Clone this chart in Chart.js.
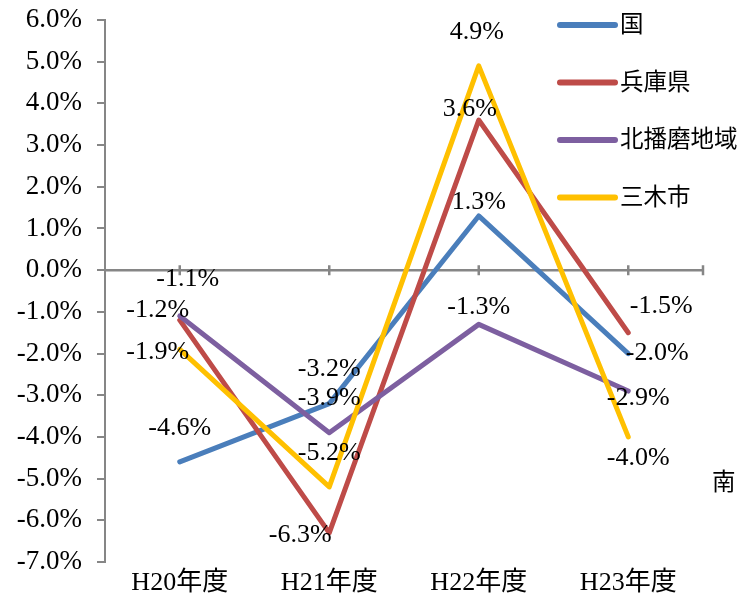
<!DOCTYPE html>
<html>
<head>
<meta charset="utf-8">
<script src="https://cdn.jsdelivr.net/npm/chart.js@4"></script>
<style>
  body { margin: 0; background: #fff; }
  #wrap { width: 743px; height: 599px; }
</style>
</head>
<body>
<div id="wrap"><canvas id="chart"></canvas></div>
<script>
const categories = ['H20年度', 'H21年度', 'H22年度', 'H23年度'];
const seriesNames = ['国', '兵庫県', '北播磨地域', '三木市'];
const kuni = [-4.6, -3.2, 1.3, -2.0];
const hyogo = [-1.2, -6.3, 3.6, -1.5];
const kitaharima = [-1.1, -3.9, -1.3, -2.9];
const miki = [-1.9, -5.2, 4.9, -4.0];
const yTicks = [-7, -6, -5, -4, -3, -2, -1, 0, 1, 2, 3, 4, 5, 6];

const colors = ['#4A7EBB', '#BE4B48', '#7D5FA0', '#FFC000'];
const FONT = '"Liberation Serif", "Noto Sans CJK JP", serif';

// label offsets from each point (px), per series
const labelOffsets = [
  [[0, -34], [0, -34], [0, -14], [29, 0]],
  [[-22, -10], [-29, 2], [-9, -11], [33, -27]],
  [[8, -37], [0, -35], [0, -17], [10, 7]],
  [[-22, 3], [0, -34], [-2, -34], [10, 21]]
];

const fmt = v => v.toFixed(1) + '%';

// zero line with tick marks
const zeroAxis = {
  id: 'zeroAxis',
  beforeDatasetsDraw(chart) {
    const { ctx, chartArea, scales } = chart;
    const y0 = scales.y.getPixelForValue(0);
    ctx.save();
    ctx.strokeStyle = '#868686';
    ctx.lineWidth = 2.5;
    ctx.beginPath();
    ctx.moveTo(chartArea.left, y0);
    ctx.lineTo(chartArea.right, y0);
    const xs = categories.map((c, i) => scales.x.getPixelForValue(i));
    xs.push(chartArea.right);
    xs.forEach(x => {
      ctx.moveTo(x, y0 - 5);
      ctx.lineTo(x, y0 + 5);
    });
    ctx.stroke();
    ctx.restore();
  }
};

// data labels + legend
const overlay = {
  id: 'overlay',
  afterDatasetsDraw(chart) {
    const { ctx } = chart;
    ctx.save();
    ctx.font = '26px ' + FONT;
    ctx.fillStyle = '#000';
    ctx.textAlign = 'center';
    ctx.textBaseline = 'middle';
    chart.data.datasets.forEach((ds, di) => {
      const meta = chart.getDatasetMeta(di);
      meta.data.forEach((pt, i) => {
        const off = labelOffsets[di][i];
        ctx.fillText(fmt(ds.data[i]), pt.x + off[0], pt.y + off[1]);
      });
    });

    // legend
    ctx.font = '23.5px ' + FONT;
    ctx.textAlign = 'left';
    ctx.lineCap = 'round';
    ctx.lineWidth = 6;
    seriesNames.forEach((name, i) => {
      const y = 25 + i * 57.5;
      ctx.strokeStyle = colors[i];
      ctx.beginPath();
      ctx.moveTo(560, y);
      ctx.lineTo(615, y);
      ctx.stroke();
      ctx.fillText(name, 620, y + 1);
    });

    // cut-off text at right edge
    ctx.fillText('南', 712, 484);
    ctx.restore();
  }
};

const ctx = document.getElementById('chart').getContext('2d');
new Chart(ctx, {
  type: 'line',
  data: {
    labels: categories,
    datasets: [kuni, hyogo, kitaharima, miki].map((d, i) => ({
      label: seriesNames[i],
      data: d,
      borderColor: colors[i],
      backgroundColor: colors[i],
      borderWidth: 5,
      pointRadius: 0,
      tension: 0,
      borderCapStyle: 'round',
      borderJoinStyle: 'round',
      order: 4 - i
    }))
  },
  options: {
    responsive: true,
    maintainAspectRatio: false,
    animation: false,
    layout: { padding: { top: 20, right: 40, left: 0, bottom: 0 } },
    plugins: {
      legend: { display: false },
      tooltip: { enabled: false }
    },
    scales: {
      x: {
        offset: true,
        grid: { display: false, drawTicks: false },
        border: { display: false },
        ticks: { font: { family: FONT, size: 26 }, color: '#000', padding: 6, maxRotation: 0 },
        afterFit: s => { s.height = 37; s.paddingLeft = 0; s.paddingRight = 0; }
      },
      y: {
        min: -7,
        max: 6,
        afterBuildTicks: s => { s.ticks = yTicks.map(v => ({ value: v })); },
        ticks: { callback: v => fmt(v), font: { family: FONT, size: 27 }, color: '#000', padding: 15 },
        grid: { display: true, drawOnChartArea: false, drawTicks: true, tickLength: 8, color: '#868686', lineWidth: 2 },
        border: { display: true, color: '#868686', width: 2 },
        afterFit: s => { s.width = 105; s.paddingTop = 0; s.paddingBottom = 0; }
      }
    }
  },
  plugins: [zeroAxis, overlay]
});
</script>
</body>
</html>
